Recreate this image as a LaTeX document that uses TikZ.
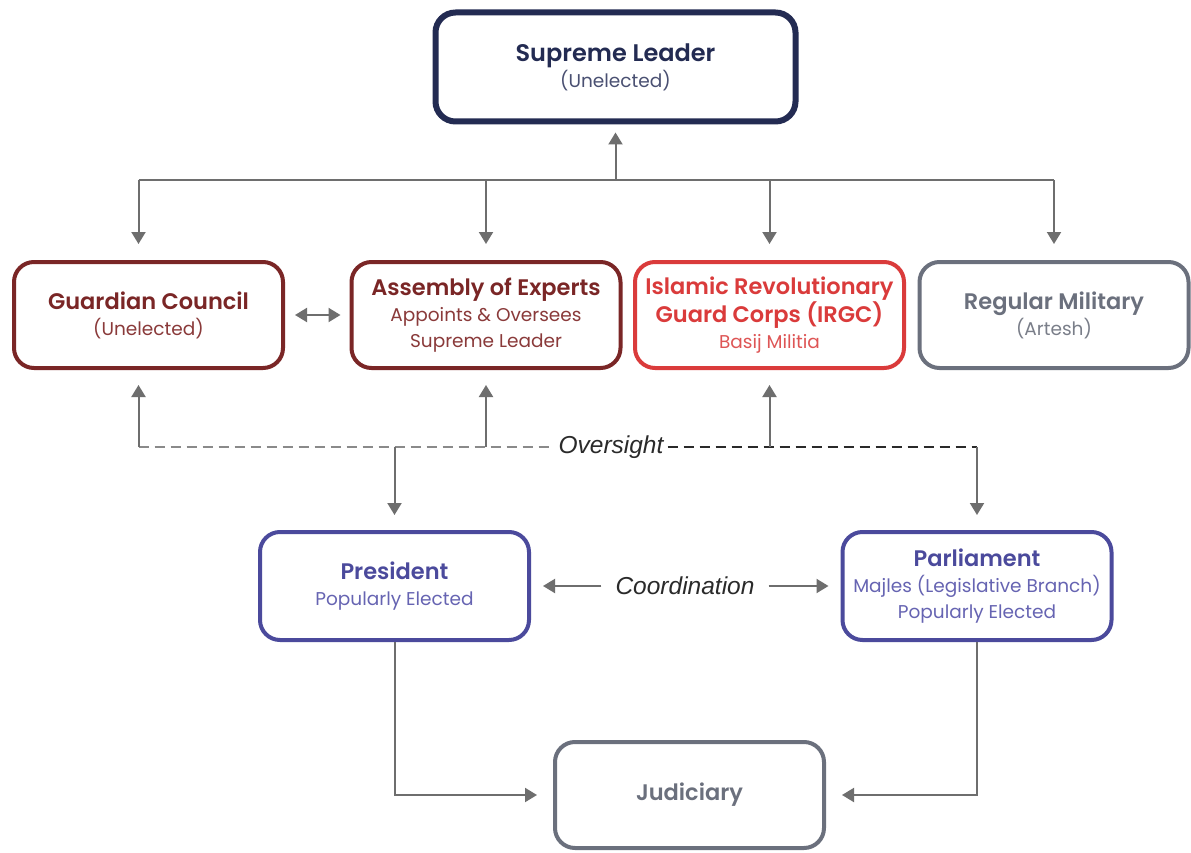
\documentclass[tikz,border=0pt]{standalone}
\usepackage{fontspec}
\setmainfont{Poppins}[BoldFont={Poppins SemiBold}]
\newfontfamily\arialf{Liberation Sans}
\usetikzlibrary{arrows.meta,calc}
\definecolor{navy}{HTML}{232B52}
\definecolor{navysub}{HTML}{4A5072}
\definecolor{dred}{HTML}{7A2626}
\definecolor{dredsub}{HTML}{8A3A3A}
\definecolor{brred}{HTML}{DA3B3B}
\definecolor{brredsub}{HTML}{DE5555}
\definecolor{gbox}{HTML}{6B707D}
\definecolor{gboxsub}{HTML}{7A7E89}
\definecolor{pblue}{HTML}{4B4A9C}
\definecolor{pbluesub}{HTML}{6664B2}
\definecolor{conn}{HTML}{6E6E6E}
\definecolor{dashgray}{HTML}{8A8A8A}
\definecolor{dashdark}{HTML}{2A2A2A}
\newcommand{\boxtitle}[1]{{\bfseries\fontsize{22.5}{26}\selectfont #1}}
\tikzset{
  orgbox/.style={draw, rounded corners=20pt, line width=4pt, minimum width=269pt,
    minimum height=106pt, align=center, fill=white, inner sep=2pt,
    font=\fontsize{18.5}{26}\selectfont},
  arr/.style={draw=conn, line width=2pt, -{Triangle[width=14pt,length=12pt]}},
  arrtwo/.style={draw=conn, line width=2pt, {Triangle[width=14pt,length=12pt]}-{Triangle[width=14pt,length=12pt]}},
  plain/.style={draw=conn, line width=2pt},
  lightdash/.style={draw=dashgray, line width=2pt, dash pattern=on 10pt off 6pt},
  darkdash/.style={draw=dashdark, line width=2pt, dash pattern=on 10pt off 6pt},
  itlabel/.style={font=\arialf\itshape\fontsize{24.5}{28}\selectfont, text=dashdark}
}
\begin{document}
\begin{tikzpicture}[x=1pt,y=-1pt]
\useasboundingbox (0,0) rectangle (1191,853);
\fill[white] (0,0) rectangle (1191,853);

% nodes
\node[orgbox, draw=navy, line width=6pt, minimum width=360pt, minimum height=109pt, text=navysub]
  (sl) at (615.5,67) {{\color{navy}\bfseries\fontsize{24}{28}\selectfont Supreme Leader}\\(Unelected)};
\node[orgbox, draw=dred, text=dredsub] (gc) at (148.5,315)
  {{\color{dred}\boxtitle{Guardian Council}}\\(Unelected)};
\node[orgbox, draw=dred, text=dredsub] (ae) at (486,315)
  {{\color{dred}\boxtitle{Assembly of Experts}}\\Appoints \& Oversees\\Supreme Leader};
\node[orgbox, draw=brred, text=brredsub] (irgc) at (769.5,315)
  {{\color{brred}\boxtitle{Islamic Revolutionary}}\\{\color{brred}\boxtitle{Guard Corps (IRGC)}}\\Basij Militia};
\node[orgbox, draw=gbox, text=gboxsub] (mil) at (1054,315)
  {{\color{gbox}\boxtitle{Regular Military}}\\(Artesh)};
\node[orgbox, draw=pblue, text=pbluesub, minimum height=108pt] (pres) at (394.5,586)
  {{\color{pblue}\boxtitle{President}}\\Popularly Elected};
\node[orgbox, draw=pblue, text=pbluesub, minimum height=108pt] (parl) at (977,586)
  {{\color{pblue}\boxtitle{Parliament}}\\Majles (Legislative Branch)\\Popularly Elected};
\node[orgbox, draw=gbox, text=gbox] (jud) at (689.5,795)
  {\boxtitle{Judiciary}};

% labels
\node[itlabel, inner sep=4pt] (ov) at (611,447) {Oversight};
\node[itlabel, inner xsep=14pt] (co) at (685,586) {Coordination};
\coordinate (bus) at (0,180);

% bus from Supreme Leader
\draw[plain] ([xshift=-10pt]gc.north |- bus) -- (mil.north |- bus);
\draw[arr, shorten >=8pt] (sl.south |- bus) -- (sl.south);
\draw[arr, shorten >=16pt] ([xshift=-10pt]gc.north |- bus) -- ([xshift=-10pt]gc.north);
\draw[arr, shorten >=16pt] (ae.north |- bus) -- (ae.north);
\draw[arr, shorten >=16pt] (irgc.north |- bus) -- (irgc.north);
\draw[arr, shorten >=16pt] (mil.north |- bus) -- (mil.north);

% guardian <-> assembly
\draw[arrtwo, shorten <=10pt, shorten >=9pt] (gc.east) -- (ae.west);

% oversight
\draw[lightdash] ([xshift=-10pt]gc.south |- ov) -- (ov.west);
\draw[darkdash] (ov.east) -- (parl.north |- ov);
\draw[arr, shorten >=15pt] ([xshift=-10pt]gc.south |- ov) -- ([xshift=-10pt]gc.south);
\draw[arr, shorten >=15pt] (ae.south |- ov) -- (ae.south);
\draw[arr, shorten >=15pt] (irgc.south |- ov) -- (irgc.south);
\draw[arr, shorten >=15pt] (pres.north |- ov) -- (pres.north);
\draw[arr, shorten >=15pt] (parl.north |- ov) -- (parl.north);

% coordination
\draw[arr, shorten >=12pt] (co.west) -- (pres.east);
\draw[arr, shorten >=12pt] (co.east) -- (parl.west);

% to judiciary
\draw[arr, shorten >=16pt] (pres.south) -- (pres.south |- jud.west) -- (jud.west);
\draw[arr, shorten >=16pt] (parl.south) -- (parl.south |- jud.east) -- (jud.east);
\end{tikzpicture}
\end{document}
